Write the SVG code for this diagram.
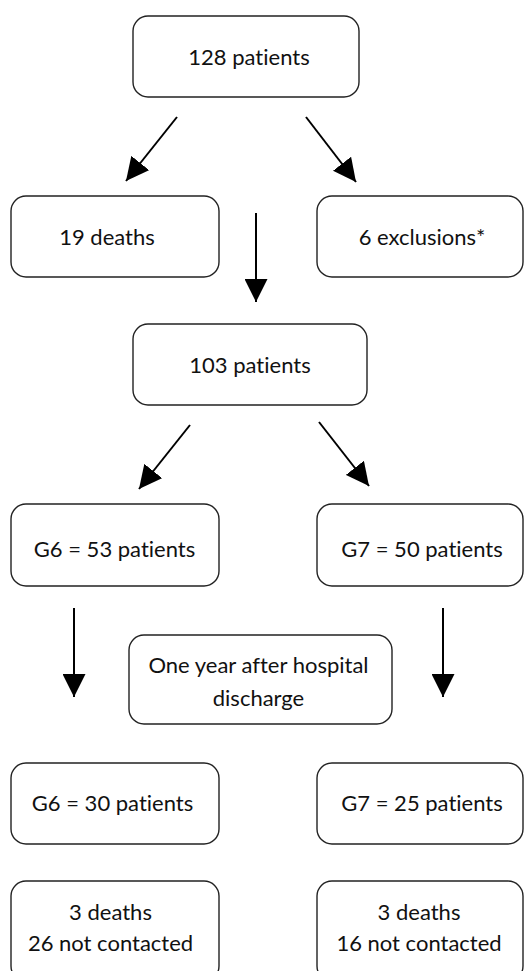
<svg xmlns="http://www.w3.org/2000/svg" width="529" height="971" viewBox="0 0 529 971">
<style>
.box{fill:#fff;stroke:#222;stroke-width:1.4}
.t{font-family:Lato,"Open Sans","Liberation Sans",sans-serif;font-size:22px;fill:#111;text-anchor:middle;font-variant-ligatures:none;font-feature-settings:"liga" 0,"dlig" 0}
.c{stroke:#000;stroke-width:2;fill:none}
</style>
<defs>
<marker id="ah" markerUnits="userSpaceOnUse" markerWidth="23" markerHeight="23" viewBox="0 0 22 22" refX="22" refY="11" orient="auto">
<path d="M0,0 L22,11 L0,22 Z" fill="#000"/>
</marker>
</defs>
<rect width="529" height="971" fill="#fff"/>
<g id="connectors">
<line class="c" x1="177" y1="117" x2="126" y2="181" marker-end="url(#ah)"/>
<line class="c" x1="306" y1="117" x2="356" y2="182" marker-end="url(#ah)"/>
<line class="c" x1="256" y1="213" x2="256" y2="302" marker-end="url(#ah)"/>
<line class="c" x1="190" y1="425" x2="139" y2="489" marker-end="url(#ah)"/>
<line class="c" x1="319" y1="422" x2="369" y2="486" marker-end="url(#ah)"/>
<line class="c" x1="74" y1="608" x2="74" y2="697" marker-end="url(#ah)"/>
<line class="c" x1="443" y1="608" x2="443" y2="697" marker-end="url(#ah)"/>
</g>
<g id="n128"><rect class="box" x="133" y="16" width="226" height="81" rx="15"/><text class="t" x="249" y="64.5">128 patients</text></g>
<g id="deaths19"><rect class="box" x="11" y="196" width="208" height="81" rx="15"/><text class="t" x="107" y="245">19 deaths</text></g>
<g id="exclusions"><rect class="box" x="317" y="196" width="206" height="81" rx="15"/><text class="t" x="422" y="245">6 exclusions*</text></g>
<g id="n103"><rect class="box" x="133" y="324" width="234" height="81" rx="15"/><text class="t" x="250" y="372.5">103 patients</text></g>
<g id="g6a"><rect class="box" x="11" y="504" width="208" height="82" rx="15"/><text class="t" x="114.5" y="557">G6 = 53 patients</text></g>
<g id="g7a"><rect class="box" x="317" y="504" width="206" height="82" rx="15"/><text class="t" x="422" y="557">G7 = 50 patients</text></g>
<g id="oneyear"><rect class="box" x="129" y="635" width="263" height="89" rx="15"/><text class="t" x="258.5" y="673">One year after hospital</text><text class="t" x="258.5" y="706">discharge</text></g>
<g id="g6b"><rect class="box" x="11" y="763" width="208" height="81" rx="15"/><text class="t" x="112.5" y="811">G6 = 30 patients</text></g>
<g id="g7b"><rect class="box" x="317" y="763" width="206" height="81" rx="15"/><text class="t" x="422" y="811">G7 = 25 patients</text></g>
<g id="g6c"><rect class="box" x="11" y="881" width="208" height="100" rx="15"/><text class="t" x="110.5" y="920">3 deaths</text><text class="t" x="110.5" y="951">26 not contacted</text></g>
<g id="g7c"><rect class="box" x="317" y="881" width="206" height="100" rx="15"/><text class="t" x="419" y="920">3 deaths</text><text class="t" x="419" y="951">16 not contacted</text></g>
</svg>
